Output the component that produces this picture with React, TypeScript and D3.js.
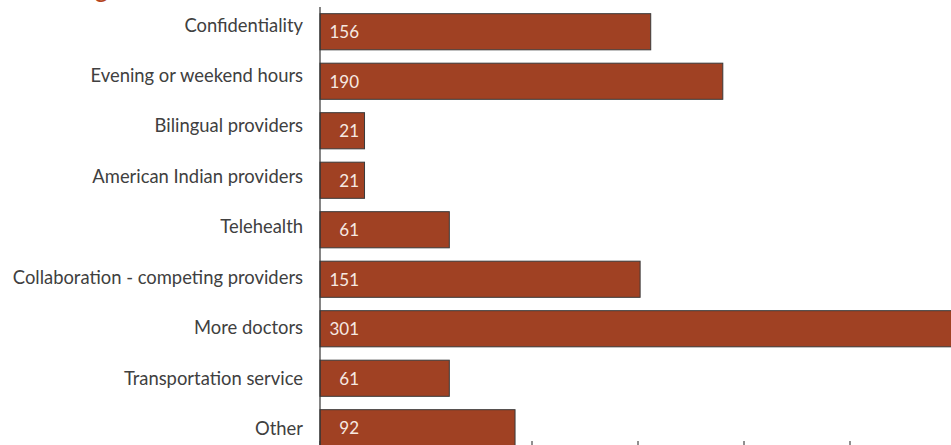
import React from "react";
import * as d3 from "d3";

const categories = [
  "Confidentiality",
  "Evening or weekend hours",
  "Bilingual providers",
  "American Indian providers",
  "Telehealth",
  "Collaboration - competing providers",
  "More doctors",
  "Transportation service",
  "Other",
];
const values = [156, 190, 21, 21, 61, 151, 301, 61, 92];
const xTicks = [0, 50, 100, 150, 200, 250, 300];
const title = "Strategies";

const W = 951;
const H = 445;
const left = 320;

export default function App() {
  const x = d3.scaleLinear().domain([0, 300]).range([left, left + 636]);
  const y = d3
    .scaleBand<string>()
    .domain(categories)
    .range([7, 452.5])
    .paddingInner(0.27)
    .paddingOuter(0.135);
  const labelY = d3.scalePoint<string>().domain(categories).range([31.5, 435]);
  const axisY = 452;
  const fill = "#a04123";
  const font = "Lato, 'Open Sans', sans-serif";
  return (
    <svg
      width={W}
      height={H}
      style={{ position: "absolute", left: 0, top: 0, background: "#fff" }}
      fontFamily={font}
    >
      <text x={27} y={-3} fill="#b5461f" fontSize={26}>
        {title}
      </text>
      {xTicks.map((t) => (
        <line
          key={t}
          x1={x(t)}
          x2={x(t)}
          y1={axisY - 11}
          y2={axisY}
          stroke="#222"
          strokeWidth={1}
        />
      ))}
      <line x1={x(0)} x2={x(300)} y1={axisY} y2={axisY} stroke="#222" />
      {categories.map((c, i) => {
        const yc = (y(c) ?? 0) + y.bandwidth() / 2;
        return (
          <g key={c}>
            <rect
              x={x(0)}
              y={y(c)}
              width={x(values[i]) - x(0)}
              height={y.bandwidth()}
              fill={fill}
              stroke="#3a3a3a"
              strokeWidth={1}
            />
            <text
              x={left - 17}
              y={labelY(c)}
              textAnchor="end"
              fontSize={18.4}
              fill="#404040"
            >
              {c}
            </text>
            <text
              x={x(0) + 39}
              y={yc + 6.5}
              textAnchor="end"
              fontSize={17}
              fill="#f6e9e2"
            >
              {values[i]}
            </text>
          </g>
        );
      })}
      <line x1={left} x2={left} y1={7} y2={axisY} stroke="#333" strokeWidth={1.2} />
    </svg>
  );
}
